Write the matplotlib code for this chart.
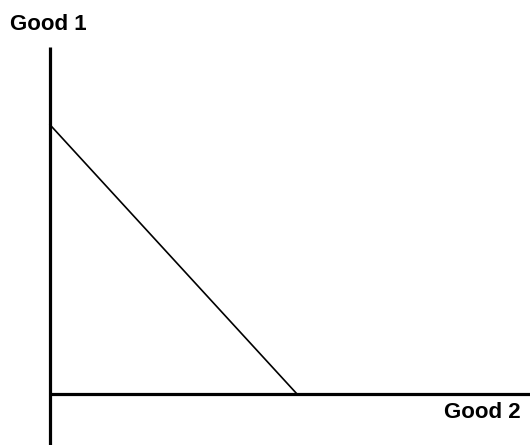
import matplotlib.pyplot as plt

# Budget line intercepts (units of each good)
good1_max = 5.45   # intercept on the Good 1 (vertical) axis
good2_max = 5.0    # intercept on the Good 2 (horizontal) axis

# Axis extents
x_end = 9.72
y_top = 7.02

px = 49.4  # pixels per unit at dpi 100

fig = plt.figure(figsize=(5.3, 4.45), dpi=100)
ax = fig.add_axes([0, 0, 1, 1])
ax.set_xlim(-50 / px, 480 / px)
ax.set_ylim(-51 / px, 394 / px)
ax.axis('off')

# Axes drawn as thick lines
ax.plot([0, x_end], [0, 0], color='black', lw=2.3, solid_capstyle='butt')
ax.plot([0, 0], [-51 / px, y_top], color='black', lw=2.3, solid_capstyle='butt')

# Budget line
ax.plot([0, good2_max], [good1_max, 0], color='black', lw=1.2)

ax.text(-40 / px, y_top + 0.45, 'Good 1', fontsize=16, fontweight='bold',
        family='Liberation Sans', ha='left', va='center')
ax.text(471 / px, -19 / px, 'Good 2', fontsize=16, fontweight='bold',
        family='Liberation Sans', ha='right', va='center')

fig.savefig('out.png', dpi=100)
